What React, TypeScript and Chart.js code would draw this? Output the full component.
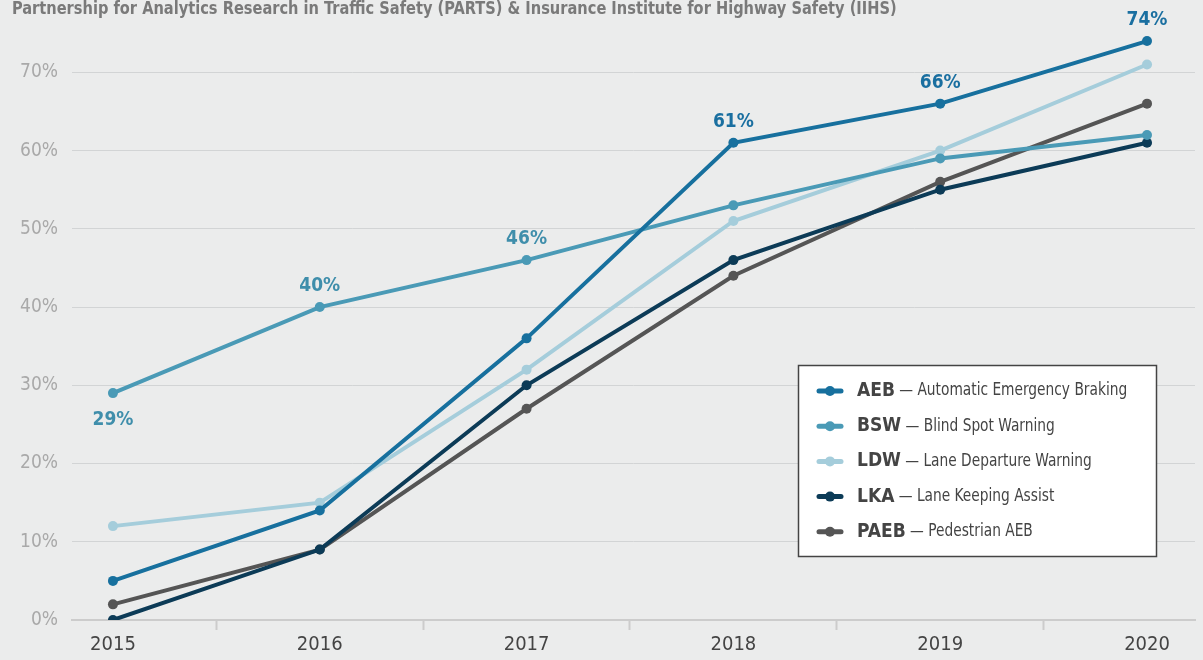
import React, { useEffect, useRef } from 'react';
import { Chart, registerables } from 'chart.js';

Chart.register(...registerables);

const FONT = "'Liberation Sans Narrow', 'DejaVu Sans Condensed', 'Roboto Condensed', Roboto, sans-serif";
const BG = '#ebecec';

const TITLE = 'Partnership for Analytics Research in Traffic Safety (PARTS) & Insurance Institute for Highway Safety (IIHS)';

const years = [2015, 2016, 2017, 2018, 2019, 2020];
const yTicks = [0, 10, 20, 30, 40, 50, 60, 70];

const aeb = [5, 14, 36, 61, 66, 74];
const bsw = [29, 40, 46, 53, 59, 62];
const ldw = [12, 15, 32, 51, 60, 71];
const lka = [0, 9, 30, 46, 55, 61];
const paeb = [2, 9, 27, 44, 56, 66];

const seriesCodes = ['AEB', 'BSW', 'LDW', 'LKA', 'PAEB'];
const seriesNames = [
  'Automatic Emergency Braking',
  'Blind Spot Warning',
  'Lane Departure Warning',
  'Lane Keeping Assist',
  'Pedestrian AEB',
];
const seriesColors = ['#17709e', '#4a9ab6', '#a5cddb', '#0c3b57', '#555555'];
const seriesValues = [aeb, bsw, ldw, lka, paeb];

// points that carry a value label
const aebLabeledYears = [2018, 2019, 2020];
const bswLabeledYears = [2015, 2016, 2017];
const labelColors = ['#1a6fa0', '#3f8eab'];

const xTickValues: number[] = [];
years.forEach((y, i) => {
  xTickValues.push(y);
  if (i < years.length - 1) xTickValues.push(y + 0.5);
});

const bgPlugin = {
  id: 'bg',
  beforeDraw(chart: any) {
    const { ctx, width, height } = chart;
    ctx.save();
    ctx.fillStyle = BG;
    ctx.fillRect(0, 0, width, height);
    ctx.restore();
  },
};

const titlePlugin = {
  id: 'topTitle',
  afterDraw(chart: any) {
    const { ctx } = chart;
    ctx.save();
    ctx.font = `bold 17px ${FONT}`;
    ctx.fillStyle = '#7a7a7a';
    ctx.textAlign = 'left';
    ctx.textBaseline = 'alphabetic';
    ctx.translate(12, 14);
    ctx.scale(0.955, 1);
    ctx.fillText(TITLE, 0, 0);
    ctx.restore();
  },
};

const valueLabelPlugin = {
  id: 'valueLabels',
  afterDatasetsDraw(chart: any) {
    const { ctx } = chart;
    const groups: [number, number[]][] = [
      [0, aebLabeledYears],
      [1, bswLabeledYears],
    ];
    ctx.save();
    ctx.font = `bold 19px ${FONT}`;
    ctx.textAlign = 'center';
    ctx.textBaseline = 'middle';
    groups.forEach(([si, ys]) => {
      const meta = chart.getDatasetMeta(si);
      ys.forEach((yr) => {
        const idx = years.indexOf(yr);
        const el = meta.data[idx];
        const v = seriesValues[si][idx];
        const below = si === 1 && idx === 0;
        ctx.fillStyle = labelColors[si];
        ctx.fillText(`${v}%`, el.x, below ? el.y + 27 : el.y - 21);
      });
    });
    ctx.restore();
  },
};

const legendPlugin = {
  id: 'boxLegend',
  afterDraw(chart: any) {
    const { ctx } = chart;
    ctx.save();
    ctx.fillStyle = '#ffffff';
    ctx.fillRect(798, 365, 359, 192);
    ctx.strokeStyle = '#444444';
    ctx.lineWidth = 1.5;
    ctx.strokeRect(798.5, 365.5, 358, 191);
    seriesCodes.forEach((code, i) => {
      const y = 391 + i * 35.2;
      const c = seriesColors[i];
      ctx.strokeStyle = c;
      ctx.lineWidth = 5;
      ctx.lineCap = 'round';
      ctx.beginPath();
      ctx.moveTo(819, y);
      ctx.lineTo(841, y);
      ctx.stroke();
      ctx.fillStyle = c;
      ctx.beginPath();
      ctx.arc(830, y, 5, 0, Math.PI * 2);
      ctx.fill();
      ctx.textBaseline = 'middle';
      ctx.textAlign = 'left';
      ctx.fillStyle = '#444444';
      ctx.font = `bold 19px ${FONT}`;
      ctx.fillText(code, 857, y);
      const w = ctx.measureText(code).width;
      ctx.font = `17px ${FONT}`;
      ctx.save();
      ctx.translate(857 + w, y);
      ctx.scale(0.9, 1);
      ctx.fillText(` \u2014 ${seriesNames[i]}`, 0, 0);
      ctx.restore();
    });
    ctx.restore();
  },
};

export default function App() {
  const ref = useRef<HTMLCanvasElement>(null);
  useEffect(() => {
    document.body.style.margin = '0';
    document.body.style.background = BG;
    const chart = new Chart(ref.current!, {
      type: 'line',
      data: {
        datasets: seriesCodes.map((code, i) => ({
          label: code,
          data: years.map((yr, j) => ({ x: yr, y: seriesValues[i][j] })),
          borderColor: seriesColors[i],
          backgroundColor: seriesColors[i],
          borderWidth: 4,
          pointRadius: 5,
          pointBorderWidth: 0,
          pointHoverRadius: 5,
          tension: 0,
          fill: false,
        })),
      },
      options: {
        animation: false,
        responsive: false,
        events: [],
        layout: { padding: { top: 25, right: 8, left: 0, bottom: 0 } },
        plugins: {
          legend: { display: false },
          title: { display: false },
          tooltip: { enabled: false },
        },
        scales: {
          x: {
            type: 'linear',
            min: 2014.802,
            max: 2020.232,
            afterBuildTicks: (s: any) => {
              s.ticks = xTickValues.map((v) => ({ value: v }));
            },
            afterFit: (s: any) => {
              s.height = 40;
            },
            ticks: {
              autoSkip: false,
              maxRotation: 0,
              color: '#444444',
              font: { family: FONT, size: 20 },
              padding: 3,
              callback: (v: any) => (Number.isInteger(v) ? String(v) : ''),
            },
            grid: {
              drawOnChartArea: false,
              drawTicks: true,
              tickLength: 10,
              tickWidth: 2,
              tickColor: (ctx: any) =>
                ctx.tick && Number.isInteger(ctx.tick.value) ? 'rgba(0,0,0,0)' : '#cccccc',
            },
            border: { display: true, color: '#cccccc', width: 2 },
          },
          y: {
            min: 0,
            max: 76,
            afterBuildTicks: (s: any) => {
              s.ticks = yTicks.map((v) => ({ value: v }));
            },
            afterFit: (s: any) => {
              s.width = 72;
            },
            ticks: {
              color: '#a9a9a9',
              font: { family: FONT, size: 19 },
              padding: 14,
              callback: (v: any) => `${v}%`,
            },
            grid: { color: '#d2d4d5', lineWidth: 1, drawTicks: false },
            border: { display: false },
          },
        },
      },
      plugins: [bgPlugin, titlePlugin, valueLabelPlugin, legendPlugin],
    });
    return () => chart.destroy();
  }, []);
  return (
    <div style={{ width: 1203, height: 660, background: BG }}>
      <canvas ref={ref} width={1203} height={660} style={{ display: 'block' }} />
    </div>
  );
}
